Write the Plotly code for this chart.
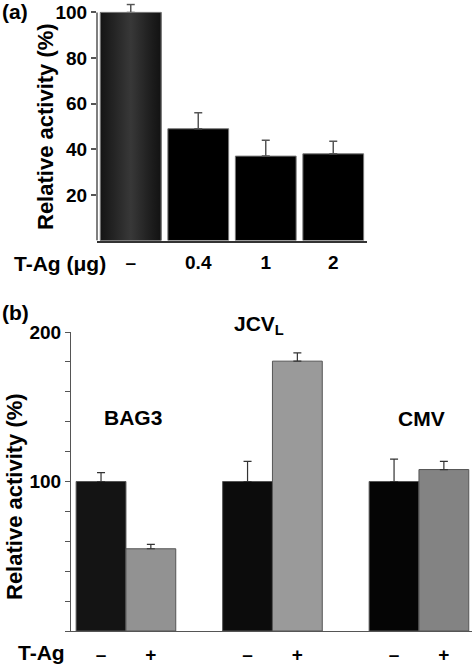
import plotly.graph_objects as go

# ---- Panel (a) data ----
a_labels = ["–", "0.4", "1", "2"]
a_values = [100, 49, 37, 38]
a_errors = [3.5, 7, 7, 5.5]
a_ticks = [20, 40, 60, 80, 100]

# ---- Panel (b) data ----
b_groups = ["BAG3", "JCV<sub>L</sub>", "CMV"]
b_minus = [100, 100, 100]
b_minus_err = [6, 13.5, 15]
b_plus = [55, 180.5, 108]
b_plus_err = [3, 5.5, 5.5]
b_minus_colors = ["#141414", "#0c0c0c", "#050505"]
b_plus_colors = ["#929292", "#9a9a9a", "#838383"]

W, H = 472, 665
FONT = "Liberation Sans"

def px(x):
    return x / W

def py(y):
    return 1 - y / H

fig = go.Figure()

# Panel (a) bars
aw = 0.9
fig.add_trace(go.Bar(
    x=list(range(len(a_values))), y=a_values, width=aw,
    marker=dict(color="#000000", line=dict(color="#777777", width=1)),
    error_y=dict(type="data", array=a_errors, arrayminus=[0] * len(a_values),
                 symmetric=False, color="#555555", thickness=1.5, width=4),
    xaxis="x", yaxis="y", showlegend=False, cliponaxis=False,
))
# gradient overlay for the first (control) bar
v0 = a_values[0]
fig.add_trace(go.Scatter(
    x=[-aw / 2, aw / 2, aw / 2, -aw / 2, -aw / 2],
    y=[0, 0, v0, v0, 0],
    mode="lines", fill="toself",
    fillgradient=dict(type="horizontal",
                      colorscale=[[0, "#141414"], [0.5, "#383838"],
                                  [0.85, "#1c1c1c"], [1, "#121212"]]),
    line=dict(color="#777777", width=1),
    xaxis="x", yaxis="y", showlegend=False, hoverinfo="skip",
))

# Panel (b) bars
bw = 0.34
gx = list(range(len(b_groups)))
fig.add_trace(go.Bar(
    x=gx, y=b_minus, width=bw, offset=-bw,
    marker=dict(color=b_minus_colors, line=dict(color="#555555", width=1)),
    error_y=dict(type="data", array=b_minus_err, arrayminus=[0] * 3,
                 symmetric=False, color="#333333", thickness=1.2, width=4),
    xaxis="x2", yaxis="y2", showlegend=False, cliponaxis=False,
))
fig.add_trace(go.Bar(
    x=gx, y=b_plus, width=bw, offset=0,
    marker=dict(color=b_plus_colors, line=dict(color="#555555", width=1)),
    error_y=dict(type="data", array=b_plus_err, arrayminus=[0] * 3,
                 symmetric=False, color="#333333", thickness=1.2, width=4),
    xaxis="x2", yaxis="y2", showlegend=False, cliponaxis=False,
))

tickfont = dict(family=FONT, size=19, color="#000000", weight="bold")
b_tickvals = []
b_ticktext = []
for g in gx:
    b_tickvals += [g - bw / 2, g + bw / 2]
    b_ticktext += ["–", "+"]

# panel (a) y axis: extend range a bit so the top error bar is not clipped
a_top = 104
a_bottom_px, a_px_per_unit = 240.5, 2.2805
fig.update_layout(
    width=W, height=H,
    margin=dict(l=0, r=0, t=0, b=0, autoexpand=False),
    paper_bgcolor="white", plot_bgcolor="white",
    xaxis=dict(domain=[px(97), px(367)], range=[-0.5, 3.5], anchor="y",
               tickvals=list(range(len(a_labels))), ticktext=a_labels,
               showline=True, linecolor="#333333", linewidth=1.5,
               ticks="", showgrid=False, zeroline=False, tickfont=tickfont,
               ticklabelstandoff=4),
    yaxis=dict(domain=[py(a_bottom_px), py(a_bottom_px - a_top * a_px_per_unit)],
               range=[0, a_top], anchor="x",
               tickvals=a_ticks,
               showline=False,
               ticks="outside", ticklen=5, tickcolor="#555555", tickwidth=1.5,
               showgrid=False, zeroline=False, tickfont=tickfont),
    xaxis2=dict(domain=[px(71), 1], range=[-0.375, 2.362], anchor="y2",
                tickvals=b_tickvals, ticktext=b_ticktext,
                showline=True, linecolor="#555555", linewidth=1.2,
                ticks="", showgrid=False, zeroline=False, tickfont=tickfont,
                ticklabelstandoff=6),
    yaxis2=dict(domain=[py(631), py(332)], range=[0, 200], anchor="x2",
                tickvals=[0, 20, 40, 60, 80, 100, 120, 140, 160, 180, 200],
                ticktext=["", "", "", "", "", "100", "", "", "", "", "200"],
                showline=True, linecolor="#555555", linewidth=1.2,
                ticks="outside", ticklen=5, tickcolor="#555555",
                showgrid=False, zeroline=False, tickfont=tickfont),
    shapes=[dict(type="line", xref="x domain", yref="y", x0=0, x1=0,
                 y0=0, y1=a_ticks[-1], line=dict(color="#555555", width=1.5))],
)

lab = dict(family=FONT, size=21, color="#000000", weight="bold")
ttl = dict(family=FONT, size=22, color="#000000", weight="bold")
ann = [
    dict(text="(a)", x=px(0), y=py(12), xanchor="left", yanchor="middle"),
    dict(text="(b)", x=px(0), y=py(313), xanchor="left", yanchor="middle"),
    dict(text="Relative activity (%)", x=px(45), y=py(127), textangle=-90,
         xanchor="center", yanchor="middle", font=ttl),
    dict(text="Relative activity (%)", x=px(14), y=py(497), textangle=-90,
         xanchor="center", yanchor="middle", font=ttl),
    dict(text="T-Ag (μg)", x=px(12), y=py(263), xanchor="left", yanchor="middle"),
    dict(text="T-Ag", x=px(16), y=py(652), xanchor="left", yanchor="middle"),
    dict(text=b_groups[0], x=px(133), y=py(417), xanchor="center", yanchor="middle"),
    dict(text=b_groups[1], x=px(259), y=py(325), xanchor="center", yanchor="middle"),
    dict(text=b_groups[2], x=px(421), y=py(418), xanchor="center", yanchor="middle"),
]
for a in ann:
    a.update(xref="paper", yref="paper", showarrow=False)
    a.setdefault("font", lab)
fig.update_layout(annotations=ann)

fig.write_html(
    "out.html",
    config={"displayModeBar": False},
    post_script="document.body.style.margin='0';document.body.style.overflow='hidden';",
)
